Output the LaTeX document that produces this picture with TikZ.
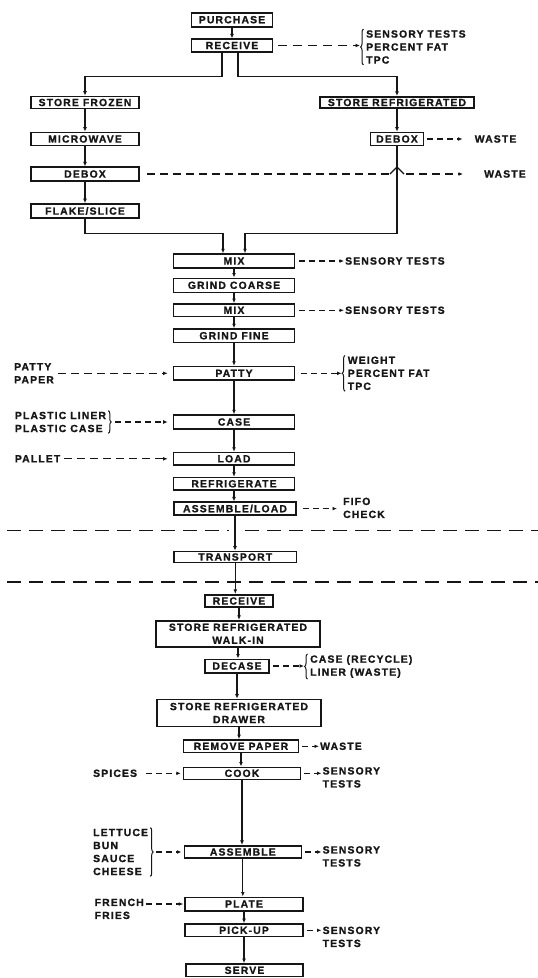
\documentclass[tikz,border=0pt]{standalone}
\usepackage{fontspec}
\setmainfont{Liberation Sans}[LetterSpace=11, BoldFeatures={FakeBold=1.3}]
\usepackage{xcolor}
\definecolor{FlowInk}{HTML}{161616}
\usetikzlibrary{arrows.meta, positioning, calc, decorations.pathreplacing}
\tikzset{
    % Bold capitals for all nodes
    every node/.style={font=\fontsize{10.4}{13}\selectfont\bfseries, text=FlowInk},
    % Process box style
    process/.style={
        rectangle,
        draw=FlowInk,
        line width=1.6pt,
        minimum height=13pt,
        inner sep=0pt,
        align=center
    },
    % Side note style
    note/.style={
        inner sep=1pt,
        align=left
    },
    % Arrow style
    arrow/.style={
        -{Latex[length=4.5pt,width=3.8pt]},
        line width=1.1pt,
        draw=FlowInk
    },
    % Dashed line style
    dashline/.style={
        line width=1.1pt,
        draw=FlowInk,
        dash pattern=on 8pt off 5pt
    },
    % Dashed arrow style
    dasharrow/.style={
        arrow,
        dash pattern=on 6pt off 4pt,
        shorten <=3pt
    },
    % Brace style
    curly/.style={
        decorate,
        decoration={brace, amplitude=3pt},
        line width=1pt,
        draw=FlowInk
    },
    % Plant / restaurant divider
    divider/.style={
        line width=1.1pt,
        draw=FlowInk,
        dash pattern=on 14pt off 8pt
    }
}

\begin{document}
\begin{tikzpicture}[x=1pt, y=-1pt]
    \useasboundingbox (0,0) rectangle (538,978);

    % Receiving and storage
    \node (purchase) [process, minimum width=81pt, minimum height=14pt] at (232,19.7) {PURCHASE};
    \node (receive) [process, minimum width=81pt, minimum height=12.5pt] at (232,45.5) {RECEIVE};
    \node (sfrozen) [process, minimum width=108pt, minimum height=12pt] at (85,102.5) {STORE FROZEN};
    \node (srefrig) [process, minimum width=154pt, minimum height=11.5pt] at (397,102.5) {STORE REFRIGERATED};
    \node (micro) [process, minimum width=108pt] at (85,139) {MICROWAVE};
    \node (deboxr) [process, minimum width=53pt] at (397,139) {DEBOX};
    \node (deboxl) [process, minimum width=108pt, minimum height=13.5pt] at (85,174) {DEBOX};
    \node (flake) [process, minimum width=108pt, minimum height=14pt] at (85,211) {FLAKE/SLICE};

    % Processing line
    \node (mix1) [process, minimum width=121pt, minimum height=13.7pt] at (234,261) {MIX};
    \node (grindc) [process, minimum width=121pt, minimum height=14pt] at (234,285.3) {GRIND COARSE};
    \node (mix2) [process, minimum width=121pt, minimum height=12.7pt] at (234,310.3) {MIX};
    \node (grindf) [process, minimum width=121pt, minimum height=13.3pt] at (234,335.7) {GRIND FINE};
    \node (patty) [process, minimum width=121pt, minimum height=13.3pt] at (234,373.3) {PATTY};
    \node (casing) [process, minimum width=121pt, minimum height=13.7pt] at (234,422) {CASE};
    \node (load) [process, minimum width=121pt, minimum height=12.3pt] at (234,458.8) {LOAD};
    \node (refrig) [process, minimum width=121pt, minimum height=12.3pt] at (234,483.8) {REFRIGERATE};
    \node (asmload) [process, minimum width=122pt, minimum height=12.7pt] at (235,508.6) {ASSEMBLE/LOAD};
    \node (transport) [process, minimum width=122.7pt, minimum height=11pt] at (235.3,557) {TRANSPORT};

    % Restaurant
    \node (receive2) [process, minimum width=68pt, minimum height=12.5pt] at (239,601) {RECEIVE};
    \node (walkin) [process, minimum width=164pt, minimum height=26pt] at (238,633.7) {STORE REFRIGERATED\\WALK-IN};
    \node (decase) [process, minimum width=64pt, minimum height=13.4pt] at (237,666) {DECASE};
    \node (drawer) [process, minimum width=164pt, minimum height=27pt] at (239,713) {STORE REFRIGERATED\\DRAWER};
    \node (rempaper) [process, minimum width=115pt, minimum height=12.7pt] at (241,746.3) {REMOVE PAPER};
    \node (cook) [process, minimum width=116.7pt, minimum height=12pt] at (242,773.3) {COOK};
    \node (assemble) [process, minimum width=117pt, minimum height=12.5pt] at (242.8,852) {ASSEMBLE};
    \node (plate) [process, minimum width=117.7pt, minimum height=13.4pt] at (244,904) {PLATE};
    \node (pickup) [process, minimum width=117.7pt, minimum height=12.7pt] at (244,930.3) {PICK-UP};
    \node (serve) [process, minimum width=117pt, minimum height=12.7pt] at (244.5,970.3) {SERVE};

    % Branch and join levels
    \coordinate (split) at (0,76.7);
    \coordinate (join) at (0,233.3);

    \draw [arrow] (purchase) -- (purchase |- receive.north);
    \draw [arrow] ([xshift=-10pt]receive.south) |- (split -| sfrozen) -- (sfrozen);
    \draw [arrow] ([xshift=6pt]receive.south) |- (split -| srefrig) -- (srefrig);
    \draw [arrow] (sfrozen) -- (micro);
    \draw [arrow] (micro) -- (deboxl);
    \draw [arrow] (deboxl) -- (flake);
    \draw [arrow] (srefrig) -- (deboxr);
    \draw [arrow] (flake) |- ([xshift=-11pt]mix1.north |- join) -- ([xshift=-11pt]mix1.north);
    \draw [arrow] (deboxr) |- ([xshift=11pt]mix1.north |- join) -- ([xshift=11pt]mix1.north);

    \draw [arrow] (mix1) -- (mix1 |- grindc.north);
    \draw [arrow] (grindc) -- (grindc |- mix2.north);
    \draw [arrow] (mix2) -- (mix2 |- grindf.north);
    \draw [arrow] (grindf) -- (grindf |- patty.north);
    \draw [arrow] (patty) -- (patty |- casing.north);
    \draw [arrow] (casing) -- (casing |- load.north);
    \draw [arrow] (load) -- (load |- refrig.north);
    \draw [arrow] (refrig) -- (refrig |- asmload.north);
    \draw [arrow] (asmload) -- (asmload |- transport.north);
    \draw [arrow] (transport) -- (transport |- receive2.north);
    \draw [arrow] (receive2) -- (receive2 |- walkin.north);
    \draw [arrow] (walkin) -- (walkin |- decase.north);
    \draw [arrow] (decase) -- (decase |- drawer.north);
    \draw [arrow] (drawer) -- (drawer |- rempaper.north);
    \draw [arrow] (rempaper) -- (rempaper |- cook.north);
    \draw [arrow] (cook) -- (cook |- assemble.north);
    \draw [arrow] (assemble) -- (assemble |- plate.north);
    \draw [arrow] (plate) -- (plate |- pickup.north);
    \draw [arrow] (pickup) -- (pickup |- serve.north);

    % Plant / transport / restaurant
    \draw [divider] (7,530.5) -- (229,530.5);
    \draw [divider] (245,530.5) -- (538,530.5);
    \draw [divider] (7,582) -- (538,582);

    % Checks and by-products
    \node (rcvtests) [note, anchor=west] at (365,47) {SENSORY TESTS\\PERCENT FAT\\TPC};
    \draw [curly] ([xshift=-1.5pt]rcvtests.south west) -- ([xshift=-1.5pt]rcvtests.north west);
    \draw [dasharrow, dash pattern=on 9pt off 6pt, shorten <=5pt] (receive.east) -- (receive.east -| {$(rcvtests.west)+(-5pt,0)$});

    \node (wasteR) [note, anchor=west] at (473.6,139) {WASTE};
    \draw [dasharrow, shorten >=11pt] (deboxr) -- (wasteR);

    \node (wasteL) [note, anchor=west] at (483,174) {WASTE};
    \coordinate (hopL) at (390,174);
    \coordinate (hopR) at (404,174);
    \draw [dashline, shorten <=7pt] (deboxl) -- (hopL);
    \draw [line width=1.1pt, draw=FlowInk] (hopL) -- ++(7,-7) -- (hopR);
    \draw [dasharrow, dash pattern=on 8pt off 5pt, shorten <=2pt, shorten >=20pt] (hopR) -- (wasteL);

    \node (mixtests1) [note, anchor=west] at (344,261) {SENSORY TESTS};
    \draw [dasharrow, shorten <=4pt] (mix1) -- (mixtests1);
    \node (mixtests2) [note, anchor=west] at (344,310.3) {SENSORY TESTS};
    \draw [dasharrow, shorten <=4pt] (mix2) -- (mixtests2);

    \node (paper) [note, anchor=west] at (13,373.3) {PATTY\\PAPER};
    \draw [dasharrow, dash pattern=on 8pt off 5pt, shorten >=5pt] (paper) -- (patty);
    \node (pattytests) [note, anchor=west] at (346.6,373.3) {WEIGHT\\PERCENT FAT\\TPC};
    \draw [curly] ([xshift=-1.5pt]pattytests.south west) -- ([xshift=-1.5pt]pattytests.north west);
    \draw [dasharrow, shorten <=6pt] (patty) -- ($(pattytests.west)+(-5pt,0)$);

    \node (liner) [note, anchor=west] at (13.7,422) {PLASTIC LINER\\PLASTIC CASE};
    \draw [curly] ([xshift=1pt]liner.north east) -- ([xshift=1pt]liner.south east);
    \draw [dasharrow, shorten >=5pt] ($(liner.east)+(5pt,0)$) -- (casing);

    \node (pallet) [note, anchor=west] at (13.7,458.8) {PALLET};
    \draw [dasharrow, dash pattern=on 8pt off 5pt, shorten >=5pt] (pallet) -- (load);

    \node (fifo) [note, anchor=north west] at (342,496.5) {FIFO\\CHECK};
    \draw [dasharrow, shorten <=6pt, shorten >=5pt] (asmload) -- (asmload -| fifo.west);

    \node (casewaste) [note, anchor=west] at (309,666.5) {CASE (RECYCLE)\\LINER (WASTE)};
    \draw [curly] ([xshift=-1.5pt]casewaste.south west) -- ([xshift=-1.5pt]casewaste.north west);
    \draw [dasharrow] (decase) -- (decase -| {$(casewaste.west)+(-5pt,0)$});

    \node (wastepaper) [note, anchor=west] at (319,746.3) {WASTE};
    \draw [dasharrow] (rempaper) -- (wastepaper);

    \node (spices) [note, anchor=west] at (92,773.3) {SPICES};
    \draw [dasharrow, shorten <=8pt, shorten >=2pt] (spices) -- (cook);
    \node (cooktests) [note, anchor=north west] at (321.5,766) {SENSORY\\TESTS};
    \draw [dasharrow] (cook) -- (cook -| cooktests.west);

    \node (fillings) [note, anchor=west] at (92,852) {LETTUCE\\BUN\\SAUCE\\CHEESE};
    \draw [curly] ([xshift=1pt]fillings.north east) -- ([xshift=1pt]fillings.south east);
    \draw [dasharrow, shorten >=2pt] ($(fillings.east)+(4pt,0)$) -- (assemble);
    \node (asmtests) [note, anchor=north west] at (321.5,845) {SENSORY\\TESTS};
    \draw [dasharrow] (assemble) -- (assemble -| asmtests.west);

    \node (fries) [note, anchor=north west] at (93.5,897.5) {FRENCH\\FRIES};
    \draw [dasharrow, shorten <=1pt, shorten >=1pt] (plate -| fries.east) -- (plate);

    \node (pickuptests) [note, anchor=north west] at (321.5,925.5) {SENSORY\\TESTS};
    \draw [dasharrow] (pickup) -- (pickup -| pickuptests.west);
\end{tikzpicture}
\end{document}
